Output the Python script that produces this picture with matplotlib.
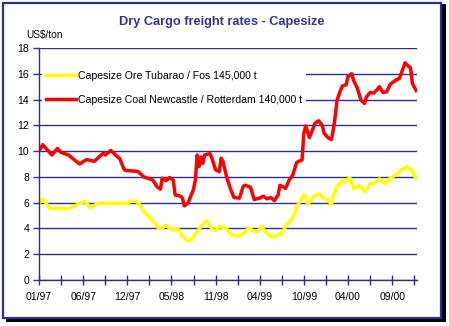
import matplotlib
matplotlib.use("Agg")
import matplotlib.pyplot as plt
from matplotlib.patches import Rectangle

plt.rcParams["font.family"] = ["Liberation Sans", "DejaVu Sans"]

# weekly observations, week 0 = first week of Jan 1997
coal_weeks = [0, 2, 7, 10, 12, 16, 19, 22, 26, 30, 35, 36, 39, 42, 44, 46, 47,
              52, 54, 57, 62, 64, 66, 67, 69, 71, 73, 74, 77, 78, 79, 81, 84,
              85, 86, 87, 88, 89, 90, 93, 94, 96, 98, 99, 100, 102, 104, 106,
              109, 111, 112, 115, 117, 120, 122, 124, 126, 128, 130, 131, 133,
              134, 136, 138, 140, 141, 143, 144, 145, 147, 148, 150, 152, 154,
              155, 157, 159, 160, 161, 162, 164, 165, 167, 168, 170, 171, 173,
              175, 177, 178, 180, 182, 184, 185, 187, 189, 191, 194, 196, 197,
              199, 200, 202, 203, 205]
coal_rate = [10.0, 10.5, 9.7, 10.2, 9.9, 9.7, 9.35, 9.0, 9.35, 9.2, 9.85, 9.7,
             10.05, 9.65, 9.4, 8.65, 8.5, 8.45, 8.4, 8.0, 7.75, 7.25, 7.05, 7.9,
             7.7, 7.95, 7.75, 6.6, 6.5, 6.35, 5.75, 5.95, 7.05, 7.75, 9.7, 8.8,
             9.55, 9.05, 9.7, 9.8, 9.45, 8.55, 8.4, 9.45, 9.2, 8.0, 7.1, 6.4,
             6.35, 7.25, 7.35, 7.2, 6.25, 6.35, 6.5, 6.3, 6.4, 6.15, 6.6, 7.35,
             7.2, 7.1, 7.75, 8.15, 9.1, 9.2, 9.3, 11.4, 11.95, 11.05, 11.4,
             12.15, 12.35, 12.0, 11.4, 11.05, 10.9, 11.65, 12.65, 13.95, 14.75,
             15.05, 15.15, 15.8, 16.0, 15.5, 14.9, 13.95, 13.7, 14.2, 14.55,
             14.5, 14.8, 15.0, 14.55, 14.6, 15.2, 15.5, 15.65, 16.05, 16.85,
             16.7, 16.45, 15.25, 14.7]

ore_weeks = [0, 2, 6, 16, 19, 22, 25, 28, 32, 47, 50, 53, 55, 57, 60, 63, 65,
             67, 69, 72, 76, 78, 81, 83, 85, 88, 91, 93, 94, 96, 98, 102, 103,
             105, 108, 111, 114, 117, 119, 121, 123, 126, 128, 130, 132, 134,
             137, 139, 140, 142, 144, 145, 146, 148, 149, 152, 154, 157, 159,
             160, 162, 165, 166, 169, 171, 174, 177, 180, 182, 185, 188, 191,
             194, 197, 200, 202, 205]
ore_rate = [5.95, 6.3, 5.55, 5.55, 5.7, 5.95, 6.1, 5.6, 5.95, 5.95, 6.1, 6.1,
            5.8, 5.3, 4.9, 4.4, 4.0, 4.0, 4.25, 3.9, 3.9, 3.35, 3.05, 3.1, 3.6,
            4.15, 4.6, 4.25, 3.9, 3.85, 4.15, 4.0, 3.75, 3.5, 3.4, 3.6, 4.05,
            3.75, 3.8, 4.15, 3.75, 3.4, 3.3, 3.55, 3.6, 4.15, 4.65, 5.15, 5.7,
            6.1, 6.6, 6.45, 5.9, 6.2, 6.45, 6.7, 6.4, 6.2, 5.9, 6.6, 7.25, 7.75,
            7.6, 7.95, 7.1, 7.35, 6.85, 7.45, 7.5, 7.85, 7.5, 7.9, 8.15, 8.55,
            8.8, 8.6, 7.9]

tick_weeks = list(range(0, 205, 12))
label_weeks = list(range(0, 205, 24))
month_labels = ["01/97", "06/97", "12/97", "05/98", "11/98", "04/99",
                "10/99", "04/00", "09/00"]

NAVY = "#2e2e8f"
TITLE = "#33339a"

fig = plt.figure(figsize=(4.49, 3.26), dpi=100)
fig.patch.set_facecolor("white")

# framed box with drop shadow, kept behind the axes
W, H = 449, 326
fig.patches.append(Rectangle((6 / W, 4 / H), 440 / W, 318 / H,
                             transform=fig.transFigure, facecolor="black",
                             edgecolor="none", zorder=-2))
fig.patches.append(Rectangle((3 / W, 8 / H), 438 / W, 315 / H,
                             transform=fig.transFigure, facecolor="white",
                             edgecolor=NAVY, linewidth=1.6, zorder=-1))

ax = fig.add_axes([39 / W, 1 - 280 / H, 378 / W, 232 / H])
ax.set_facecolor("none")

ax.plot(ore_weeks, ore_rate, color="#ffff00", lw=2.5,
        label="Capesize Ore Tubarao / Fos 145,000 t", solid_joinstyle="round")
ax.plot(coal_weeks, coal_rate, color="#ff0000", lw=2.5,
        label="Capesize Coal Newcastle / Rotterdam 140,000 t",
        solid_joinstyle="round")

ax.set_xlim(0, 205.5)
ax.set_ylim(0, 18)
ax.set_yticks(range(0, 19, 2))
ax.set_xticks(tick_weeks)
ax.set_xticklabels([month_labels[label_weeks.index(w)] if w in label_weeks else ""
                    for w in tick_weeks])
ax.grid(axis="y", color=NAVY, lw=1.0)
ax.set_axisbelow(True)

for side in ("top", "right"):
    ax.spines[side].set_visible(False)
for side in ("left", "bottom"):
    ax.spines[side].set_color(NAVY)
    ax.spines[side].set_linewidth(1.0)

ax.tick_params(axis="y", direction="out", length=4, width=1.0, color=NAVY,
               labelsize=7.5, pad=3)
ax.tick_params(axis="x", direction="inout", length=7, width=1.0, color=NAVY,
               labelsize=7.5, pad=5)

leg = ax.legend(loc="upper left", bbox_to_anchor=(0.008, 0.92),
                borderaxespad=0, fontsize=7.6, handlelength=2.8,
                handletextpad=0.2, labelspacing=1.35, borderpad=0.4,
                fancybox=False, framealpha=1, facecolor="white",
                edgecolor="none")

fig.text(222 / W, 1 - 22 / H, "Dry Cargo freight rates - Capesize",
         ha="center", va="center", fontsize=9.2, fontweight="bold",
         color=TITLE)
fig.text(26 / W, 1 - 35 / H, "US$/ton", ha="left", va="center", fontsize=7.3)

fig.savefig("out.png", dpi=100)
